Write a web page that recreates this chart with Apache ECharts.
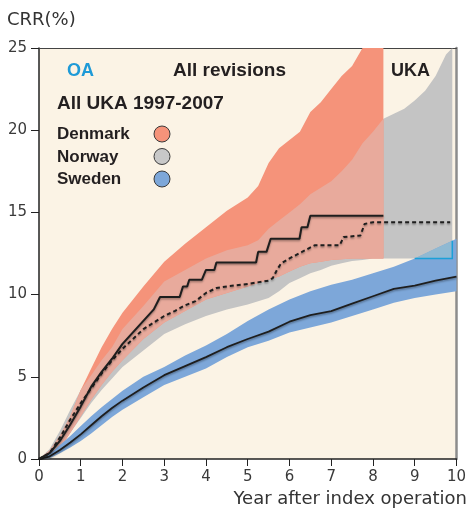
<!DOCTYPE html>
<html>
<head>
<meta charset="utf-8">
<script src="https://cdn.jsdelivr.net/npm/echarts@6/dist/echarts.min.js"></script>
<style>html,body{margin:0;background:#fff}#main{width:469px;height:511px}</style>
</head>
<body>
<div id="main"></div>
<script>
"use strict";
// band grid shared by Denmark / Norway (years)
var bandX = [0, 0.25, 0.5, 0.75, 1, 1.25, 1.5, 1.75, 2, 2.5, 3, 3.5, 4, 4.5, 5, 5.25, 5.5, 5.75, 6, 6.25, 6.5, 6.75, 7, 7.25, 7.5, 7.75, 8, 8.25, 8.5, 8.75, 9, 9.25, 9.5, 9.75, 9.9];
var denmarkUpper = [0, 0.5, 1.4, 2.6, 4.2, 5.5, 6.8, 7.9, 8.9, 10.5, 12.0, 13.1, 14.1, 15.1, 15.9, 16.6, 18.0, 18.9, 19.4, 19.9, 21.1, 21.7, 22.5, 23.3, 23.9, 25, 25, 25];
var denmarkLower = [0, 0.1, 0.6, 1.6, 2.6, 3.6, 4.5, 5.3, 6.0, 7.3, 8.3, 9.0, 9.7, 10.1, 10.5, 10.7, 10.9, 11.1, 11.4, 11.7, 11.9, 12.0, 12.1, 12.15, 12.2, 12.2, 12.2, 12.2];
var norwayUpper = [0, 0.6, 1.7, 3.0, 4.2, 5.1, 6.0, 6.8, 7.9, 9.3, 10.8, 11.5, 12.2, 12.7, 13.0, 13.3, 14.0, 14.5, 15.0, 15.5, 16.1, 16.5, 16.9, 17.5, 18.2, 19.2, 19.9, 20.7, 21.0, 21.3, 21.8, 22.4, 23.3, 24.6, 25];
var norwayLower = [0, 0.1, 0.7, 1.6, 2.5, 3.4, 4.2, 4.9, 5.6, 6.6, 7.6, 8.2, 8.7, 9.1, 9.4, 9.6, 9.8, 10.2, 10.7, 11.0, 11.3, 11.5, 11.75, 11.9, 12.05, 12.1, 12.2, 12.2, 12.2, 12.2, 12.2, 12.2, 12.2, 12.2, 12.2];
var ukaStart = 27; // index of 8.25 in bandX, where only Norway remains

var swedenX = [0, 0.25, 0.5, 0.75, 1, 1.25, 1.5, 1.75, 2, 2.5, 3, 3.5, 4, 4.5, 5, 5.5, 6, 6.5, 7, 7.5, 8, 8.5, 9, 9.5, 10];
var swedenUpper = [0, 0.3, 0.85, 1.4, 2.0, 2.6, 3.15, 3.65, 4.15, 5.0, 5.6, 6.3, 6.9, 7.6, 8.4, 9.1, 9.7, 10.2, 10.6, 10.9, 11.3, 11.7, 12.2, 12.8, 13.4];
var swedenLower = [0, 0.05, 0.35, 0.7, 1.1, 1.55, 2.05, 2.55, 3.0, 3.75, 4.5, 5.0, 5.5, 6.2, 6.8, 7.2, 7.7, 8.0, 8.3, 8.7, 9.1, 9.5, 9.8, 10.0, 10.2];
var swedenLine = [0, 0.15, 0.55, 1.0, 1.5, 2.05, 2.6, 3.1, 3.55, 4.35, 5.1, 5.65, 6.2, 6.8, 7.3, 7.75, 8.35, 8.75, 9.0, 9.45, 9.9, 10.35, 10.55, 10.85, 11.1];

var denmarkLineX = [0, 0.25, 0.5, 0.75, 1, 1.25, 1.5, 1.75, 2, 2.25, 2.5, 2.75, 2.9, 3.37, 3.45, 3.55, 3.6, 3.9, 4.0, 4.2, 4.25, 5.2, 5.25, 5.45, 5.55, 6.24, 6.29, 6.43, 6.5, 8.25];
var denmarkLineY = [0, 0.35, 1.1, 2.1, 3.2, 4.4, 5.3, 6.1, 7.0, 7.7, 8.4, 9.1, 9.85, 9.85, 10.5, 10.5, 10.9, 10.9, 11.5, 11.5, 11.95, 11.95, 12.6, 12.6, 13.4, 13.4, 14.1, 14.1, 14.8, 14.8];
var norwayLineX = [0, 0.25, 0.5, 0.75, 1, 1.25, 1.5, 1.75, 2, 2.25, 2.5, 2.75, 3, 3.25, 3.5, 3.75, 4, 4.25, 4.5, 5, 5.5, 5.6, 5.7, 5.8, 6.0, 6.3, 6.6, 7.2, 7.3, 7.7, 7.8, 8.0, 9.85];
var norwayLineY = [0, 0.35, 1.3, 2.4, 3.4, 4.3, 5.2, 6.0, 6.7, 7.3, 7.9, 8.3, 8.7, 9.0, 9.35, 9.6, 10.1, 10.4, 10.5, 10.65, 10.85, 11.0, 11.5, 11.9, 12.2, 12.6, 13.0, 13.0, 13.5, 13.6, 14.3, 14.4, 14.4];

var legendNames = ["Denmark", "Norway", "Sweden"];
var legendColors = ["#F5937A", "#C8C8C8", "#7DA7D9"];

var denmarkX = bandX.slice(0, denmarkUpper.length);

function interp(xs, ys, x) {
    for (var i = 1; i < xs.length; i++) {
        if (x <= xs[i]) {
            var f = (x - xs[i - 1]) / (xs[i] - xs[i - 1]);
            return ys[i - 1] + f * (ys[i] - ys[i - 1]);
        }
    }
    return ys[ys.length - 1];
}
// common part of two bands
function overlap(xa, la, ua, xb, lb, ub) {
    var x0 = Math.max(xa[0], xb[0]), x1 = Math.min(xa[xa.length - 1], xb[xb.length - 1]);
    var xs = xa.concat(xb).filter(function (x) { return x >= x0 && x <= x1; })
        .sort(function (a, b) { return a - b; })
        .filter(function (x, i, arr) { return i === 0 || x !== arr[i - 1]; });
    var lo = [], hi = [];
    xs.forEach(function (x) {
        var l = Math.max(interp(xa, la, x), interp(xb, lb, x));
        var h = Math.min(interp(xa, ua, x), interp(xb, ub, x));
        lo.push(l);
        hi.push(Math.max(h, l));
    });
    return { x: xs, lo: lo, hi: hi };
}

function band(xs, lo, hi, fill, edge) {
    return {
        type: "custom", coordinateSystem: "cartesian2d", silent: true, clip: true,
        data: [[xs[0], lo[0]]],
        renderItem: function (params, api) {
            var pts = [];
            for (var i = 0; i < xs.length; i++) pts.push(api.coord([xs[i], hi[i]]));
            for (var j = xs.length - 1; j >= 0; j--) pts.push(api.coord([xs[j], lo[j]]));
            var children = [{ type: "polygon", shape: { points: pts }, style: { fill: fill } }];
            if (edge) {
                var e = [];
                for (var k = 0; k < xs.length; k++) {
                    if (hi[k] - lo[k] > 0.01 || (k + 1 < xs.length && hi[k + 1] - lo[k + 1] > 0.01)) {
                        e.push(api.coord([xs[k], lo[k]]));
                    }
                }
                var n = xs.length - 1;
                e.push(api.coord([xs[n], hi[n]]));
                children.push({ type: "polyline", shape: { points: e }, style: { stroke: edge, lineWidth: 1.5, fill: null } });
            }
            return { type: "group", children: children };
        }
    };
}

function zip(xs, ys) {
    return xs.map(function (x, i) { return [x, ys[i]]; });
}

var dnOverlap = overlap(denmarkX, denmarkLower, denmarkUpper, bandX, norwayLower, norwayUpper);
var snOverlap = overlap(swedenX, swedenLower, swedenUpper,
    bandX.slice(ukaStart), norwayLower.slice(ukaStart), norwayUpper.slice(ukaStart));

var lineShadow = { shadowColor: "rgba(0,0,0,0.35)", shadowBlur: 2, shadowOffsetY: 1.5 };

var chartDom = document.getElementById("main");
var myChart = echarts.init(chartDom);

var font = "Liberation Sans";
var thin = "DejaVu Sans";
var graphics = [
    { type: "text", left: 7, top: 11, style: { text: "CRR(%)", fill: "#333", font: "18px '" + thin + "'" } },
    { type: "text", right: 2, top: 490, style: { text: "Year after index operation", fill: "#333", font: "18px '" + thin + "'" } },
    { type: "text", left: 67, top: 62, style: { text: "OA", fill: "#1E9AD7", font: "bold 18px '" + font + "'" } },
    { type: "text", left: 173, top: 61, style: { text: "All revisions", fill: "#231F20", font: "bold 19px '" + font + "'" } },
    { type: "text", left: 391, top: 62, style: { text: "UKA", fill: "#231F20", font: "bold 18px '" + font + "'" } },
    { type: "text", left: 57, top: 94, style: { text: "All UKA 1997-2007", fill: "#231F20", font: "bold 19px '" + font + "'" } }
];
legendNames.forEach(function (name, i) {
    var cy = 134 + i * 22.5;
    graphics.push({ type: "text", left: 57, top: cy - 8, style: { text: name, fill: "#231F20", font: "bold 17px '" + font + "'" } });
    graphics.push({ type: "circle", shape: { cx: 162, cy: cy, r: 8 }, style: { fill: legendColors[i], stroke: "#3a3a3a", lineWidth: 1 } });
});

var option = {
    animation: false,
    grid: { left: 39, right: 12, top: 48, bottom: 52, show: true, backgroundColor: "#FBF3E5", borderWidth: 0 },
    graphic: graphics,
    xAxis: [{
        type: "value", min: 0, max: 10, interval: 1,
        axisLine: { onZero: false, lineStyle: { color: "#222", width: 1.5 } },
        axisTick: { length: 7, lineStyle: { color: "#222" } },
        axisLabel: { margin: 11, color: "#3a3a3a", fontSize: 15, fontFamily: thin },
        splitLine: { show: false }
    }, {
        type: "value", min: 0, max: 10, position: "top",
        axisLine: { show: true, onZero: false, lineStyle: { color: "#444", width: 1 } },
        axisTick: { show: false }, axisLabel: { show: false }, splitLine: { show: false }
    }],
    yAxis: [{
        type: "value", min: 0, max: 25, interval: 5,
        axisLine: { show: true, onZero: false, lineStyle: { color: "#222", width: 1.5 } },
        axisTick: { show: true, length: 8, lineStyle: { color: "#222" } },
        axisLabel: { margin: 12, color: "#3a3a3a", fontSize: 15, fontFamily: thin },
        splitLine: { show: false }
    }, {
        type: "value", min: 0, max: 25, position: "right",
        axisLine: { show: true, onZero: false, lineStyle: { color: "#8c8c8c", width: 2.5 } },
        axisTick: { show: false }, axisLabel: { show: false }, splitLine: { show: false }
    }],
    series: [
        band(bandX, norwayLower, norwayUpper, "#C4C4C4"),
        band(denmarkX, denmarkLower, denmarkUpper, "#F5937A"),
        band(dnOverlap.x, dnOverlap.lo, dnOverlap.hi, "#E8AA9C"),
        band(swedenX, swedenLower, swedenUpper, "#7DA7D9"),
        band(snOverlap.x, snOverlap.lo, snOverlap.hi, "#90B9D2", "#1BA0D8"),
        { type: "line", data: zip(swedenX, swedenLine), symbol: "none", z: 5,
          lineStyle: Object.assign({ color: "#1e1e1e", width: 1.8 }, lineShadow) },
        { type: "line", data: zip(norwayLineX, norwayLineY), symbol: "none", z: 5,
          lineStyle: Object.assign({ color: "#1e1e1e", width: 2, type: [4, 3] }, lineShadow) },
        { type: "line", data: zip(denmarkLineX, denmarkLineY), symbol: "none", z: 5,
          lineStyle: Object.assign({ color: "#1e1e1e", width: 2 }, lineShadow) }
    ]
};
myChart.setOption(option);
</script>
</body>
</html>
